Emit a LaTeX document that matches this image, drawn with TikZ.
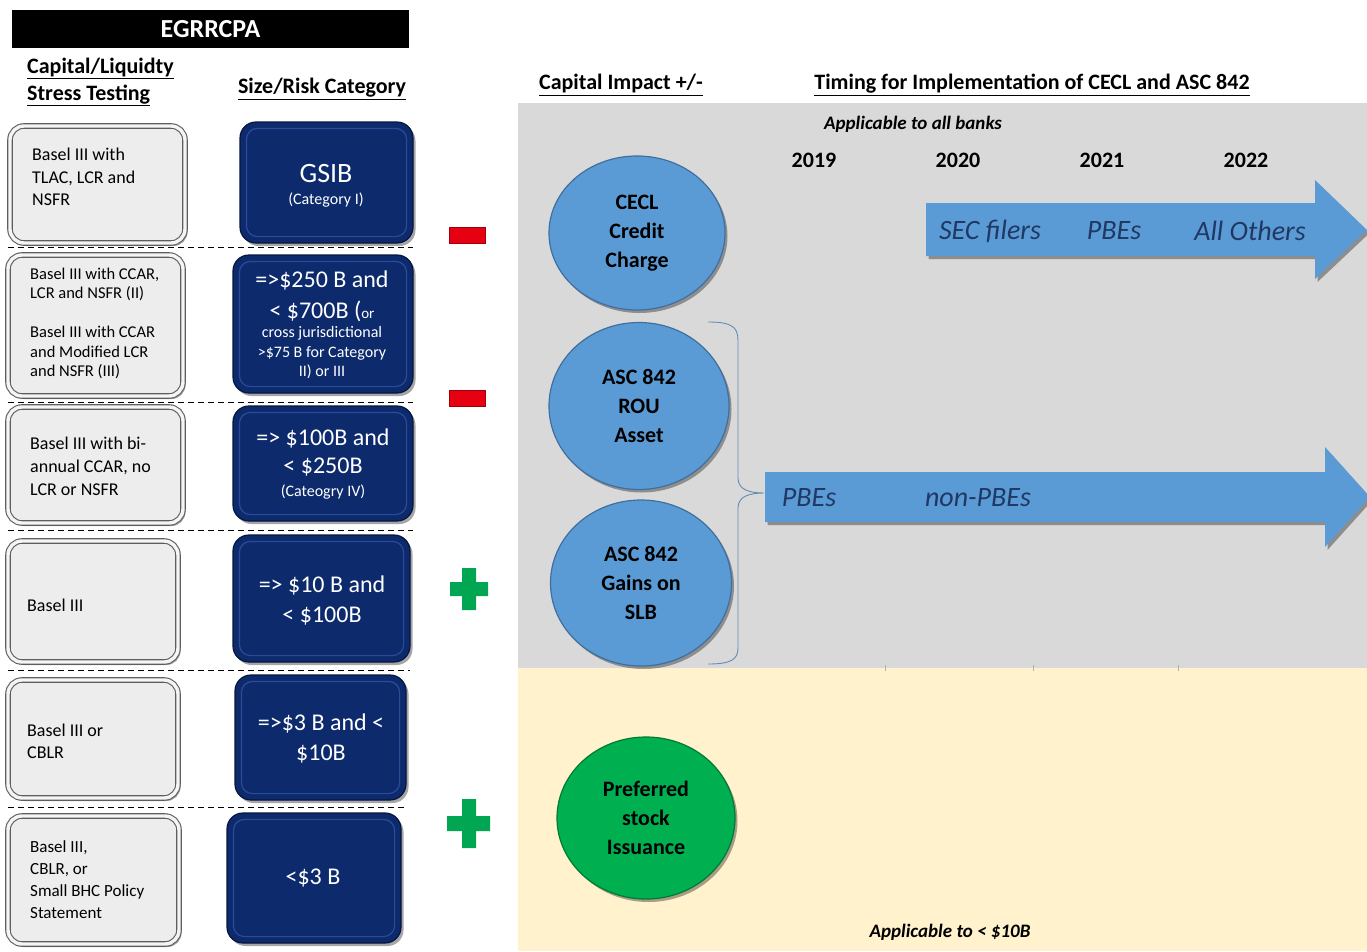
\documentclass[tikz,border=0pt]{standalone}
\usepackage{fontspec}
\setmainfont{Carlito}
\usetikzlibrary{shadows,shapes.geometric}
\definecolor{navy}{HTML}{0D2A6C}
\definecolor{navyedge}{HTML}{06163F}
\definecolor{navybevel}{HTML}{2A4C97}
\definecolor{lgray}{HTML}{EDEDED}
\definecolor{ledge}{HTML}{5E5E5E}
\definecolor{pgray}{HTML}{D9D9D9}
\definecolor{pyellow}{HTML}{FFF2CC}
\definecolor{cblue}{HTML}{5B9BD5}
\definecolor{cblueedge}{HTML}{3F6F9E}
\definecolor{atext}{HTML}{1F3864}
\definecolor{mred}{HTML}{E60012}
\definecolor{pgreen}{HTML}{00A651}
\definecolor{cgreen}{HTML}{00B050}
\definecolor{cgreenedge}{HTML}{007A36}
\begin{document}
\begin{tikzpicture}[x=1pt,y=-1pt,
  shadowed/.style={drop shadow={shadow xshift=2.5pt,shadow yshift=-3pt,opacity=.35,fill=black}},
  lbox/.style={shadowed, draw=ledge, line width=1.1pt, double=white!92!gray, double distance=3.4pt, fill=lgray, rounded corners=14pt, inner sep=0pt},
  rbox/.style={shadowed, draw=navyedge, line width=1.2pt, fill=navy, rounded corners=16pt, inner sep=0pt},
  bevelline/.style={draw=navybevel, line width=1.2pt, rounded corners=11pt},
  ltext/.style={anchor=west, align=left, inner sep=0pt, text=black},
  rtext/.style={align=center, inner sep=0pt, text=white},
  hdr/.style={font=\bfseries\fontsize{22}{27}\selectfont, inner sep=0pt},
  bubble/.style={ellipse, shadowed, draw=cblueedge, line width=1.2pt, fill=cblue, inner sep=0pt, align=center, font=\bfseries\fontsize{22}{29}\selectfont},
  yeartxt/.style={font=\bfseries\fontsize{22}{24}\selectfont, inner sep=0pt},
  atxt/.style={font=\itshape\fontsize{28}{30}\selectfont, text=atext, inner sep=0pt},
  notetxt/.style={font=\bfseries\itshape\fontsize{19}{21}\selectfont, inner sep=0pt},
  dsep/.style={dash pattern=on 6pt off 4pt, line width=1pt},
]
\useasboundingbox (0,0) rectangle (1367,951);
\fill[white] (0,0) rectangle (1367,951);

% panels
\fill[pgray] (518,103) rectangle (1367,668);
\fill[pyellow] (518,668) rectangle (1367,951);
\draw[gray!60, line width=0.6pt] (885,665) -- (885,671) (1033,665) -- (1033,671) (1178,665) -- (1178,671);

% header
\node[fill=black, minimum width=397pt, minimum height=38pt, inner sep=0pt, text=white, font=\bfseries\fontsize{26}{28}\selectfont] (title) at (210.5,29) {EGRRCPA};
\node[hdr, anchor=west, align=left] (hcap) at (27,82) {\underline{Capital/Liquidty}\\\underline{Stress Testing}};
\node[hdr] (hsize) at (322,89) {\underline{Size/Risk Category}};
\node[hdr] (himp) at (621,85) {\underline{Capital Impact +/-}};
\node[hdr] (htime) at (1032,85) {\underline{Timing for Implementation of CECL and ASC 842}};

% dashed separators
\draw[dsep] (8,247) -- (413,247);
\draw[dsep] (8,402) -- (413,402);
\draw[dsep] (8,530) -- (413,530);
\draw[dsep] (8,670) -- (410,670);
\draw[dsep] (8,807) -- (406,807);

% left boxes
\node[lbox, minimum width=175pt, minimum height=117pt] (l1) at (97.5,184.5) {};
\node[lbox, minimum width=175pt, minimum height=141pt] (l2) at (95.5,325.5) {};
\node[lbox, minimum width=175pt, minimum height=116pt] (l3) at (95.5,465) {};
\node[lbox, minimum width=170pt, minimum height=121pt] (l4) at (93,601.5) {};
\node[lbox, minimum width=170pt, minimum height=118pt] (l5) at (93,739) {};
\node[lbox, minimum width=171pt, minimum height=128pt] (l6) at (93.5,880) {};

\node[ltext, font=\fontsize{18}{22.5}\selectfont] (lt1) at (32,177) {Basel III with\\TLAC, LCR and\\NSFR};
\node[ltext, font=\fontsize{16.5}{19.5}\selectfont] (lt2) at (30,323.5) {Basel III with CCAR,\\LCR and NSFR (II)\\[19.5pt]Basel III with CCAR\\and Modified LCR\\and NSFR (III)};
\node[ltext, font=\fontsize{18}{23}\selectfont] (lt3) at (30,466) {Basel III with bi-\\annual CCAR, no\\LCR or NSFR};
\node[ltext, font=\fontsize{18}{22}\selectfont] (lt4) at (27,605) {Basel III};
\node[ltext, font=\fontsize{18}{22}\selectfont] (lt5) at (27,741) {Basel III or\\CBLR};
\node[ltext, font=\fontsize{17}{22}\selectfont] (lt6) at (30,880) {Basel III,\\CBLR, or\\Small BHC Policy\\Statement};

% right boxes
\node[rbox, minimum width=173pt, minimum height=121pt] (r1) at (326.5,182.5) {};
\node[rbox, minimum width=180pt, minimum height=138pt] (r2) at (323,324) {};
\node[rbox, minimum width=180pt, minimum height=115pt] (r3) at (323,463.5) {};
\node[rbox, minimum width=177pt, minimum height=127pt] (r4) at (321.5,598.5) {};
\node[rbox, minimum width=171pt, minimum height=125pt] (r5) at (320.5,737.5) {};
\node[rbox, minimum width=174pt, minimum height=130pt] (r6) at (314,878) {};
\foreach \r in {r1,r2,r3,r4,r5,r6}{
  \draw[bevelline] ([shift={(7,7)}]\r.north west) rectangle ([shift={(-7,-7)}]\r.south east);
}

\node[rtext, font=\fontsize{28}{30}\selectfont] (rt1a) at (326,174) {GSIB};
\node[rtext, font=\fontsize{16}{18}\selectfont] (rt1b) at (326,200) {(Category I)};
\node[rtext, font=\fontsize{24}{31}\selectfont] (rt2a) at (322,296) {=>\$250 B and\\< \$700B ({\fontsize{15}{15}\selectfont or}};
\node[rtext, font=\fontsize{16}{19.5}\selectfont] (rt2b) at (322,353) {cross jurisdictional\\>\$75 B for Category\\II) or III};
\node[rtext, font=\fontsize{24}{28}\selectfont] (rt3a) at (323,452) {=> \$100B and\\< \$250B};
\node[rtext, font=\fontsize{16}{18}\selectfont] (rt3b) at (323,492) {(Cateogry IV)};
\node[rtext, font=\fontsize{24}{30}\selectfont] (rt4) at (322,600) {=> \$10 B and\\< \$100B};
\node[rtext, font=\fontsize{24}{30}\selectfont] (rt5) at (321,738) {=>\$3 B and <\\\$10B};
\node[rtext, font=\fontsize{24}{26}\selectfont] (rt6) at (313,878) {<\$3 B};

% capital impact signs
\node[fill=mred, draw=mred!70!black, line width=0.6pt, minimum width=36pt, minimum height=16pt, inner sep=0pt] (m1) at (467,235) {};
\node[fill=mred, draw=mred!70!black, line width=0.6pt, minimum width=36pt, minimum height=16pt, inner sep=0pt] (m2) at (467,398.5) {};
\fill[pgreen] (462,568) rectangle (476,610) (450,582) rectangle (488,596);
\fill[pgreen] (462,799) rectangle (476,848) (447,816) rectangle (490,831);

% timeline texts
\node[notetxt] (nall) at (913,124) {Applicable to all banks};
\node[yeartxt] (y19) at (814,160) {2019};
\node[yeartxt] (y20) at (958,160) {2020};
\node[yeartxt] (y21) at (1102,160) {2021};
\node[yeartxt] (y22) at (1246,160) {2022};

% arrows
\fill[cblue, shadowed] (926,203) -- (1315,203) -- (1315,180) -- (1367,230) -- (1315,279) -- (1315,256) -- (926,256) -- cycle;
\fill[cblue, shadowed] (765,472) -- (1325,472) -- (1325,447) -- (1370,497) -- (1325,547) -- (1325,522) -- (765,522) -- cycle;
\node[atxt] (a1) at (990,231) {SEC filers};
\node[atxt] (a2) at (1114,231) {PBEs};
\node[atxt] (a3) at (1250,231) {All Others};
\node[atxt] (a4) at (809,498) {PBEs};
\node[atxt] (a5) at (978,498) {non-PBEs};

% brace
\draw[cblueedge!80, line width=0.9pt] (708,322) .. controls (730,322) and (738,326) .. (738,340) -- (738,478) .. controls (738,490) and (750,493) .. (764,493) .. controls (750,493) and (738,496) .. (738,508) -- (738,648) .. controls (738,660) and (730,664) .. (708,664);

% bubbles
\node[bubble, minimum width=176pt, minimum height=154pt] (cecl) at (637,233) {CECL\\Credit\\Charge};
\node[bubble, minimum width=180pt, minimum height=167pt] (rou) at (639,406) {ASC 842\\ROU\\Asset};
\node[bubble, minimum width=181pt, minimum height=166pt] (slb) at (641,583) {ASC 842\\Gains on\\SLB};
\node[bubble, fill=cgreen, draw=cgreenedge, minimum width=178pt, minimum height=162pt] (pref) at (646,818) {Preferred\\stock\\Issuance};

\node[notetxt] (nsmall) at (950,932) {Applicable to < \$10B};
\end{tikzpicture}
\end{document}
